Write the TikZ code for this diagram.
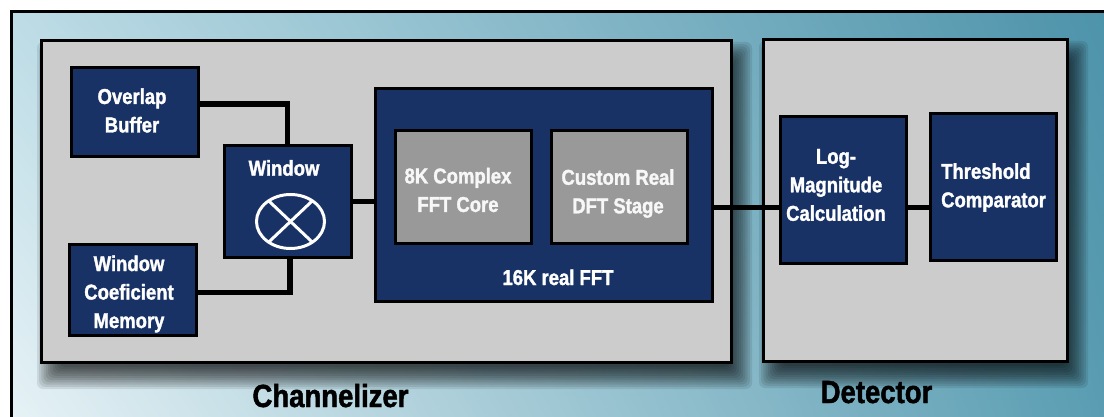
\documentclass[tikz,border=0pt]{standalone}
\usepackage{fontspec}
\setmainfont{Liberation Sans}[FakeStretch=0.86,BoldFeatures={FakeBold=1.5}]
\usetikzlibrary{calc,shadings}
\definecolor{navy}{HTML}{183266}
\definecolor{panel}{HTML}{CCCCCC}
\definecolor{core}{HTML}{999999}
\definecolor{bgUL}{HTML}{BDDCE6}
\definecolor{bgLL}{HTML}{E6F2F6}
\definecolor{bgUR}{HTML}{4D93AA}
\definecolor{bgLR}{HTML}{5A9DB2}
\newcommand{\blurshadow}[4]{%
  \foreach \k in {0,...,10}{%
    \pgfmathsetmacro{\s}{11-2.2*\k}%
    \fill[black,opacity=0.09,rounded corners=6pt]
      ({#1+8-\s},{#2+14-\s}) rectangle ({#3+8+\s},{#4+14+\s});
  }%
}
\tikzset{
  panelbox/.style={draw=black,line width=3pt,fill=panel,inner sep=0pt},
  bluebox/.style={draw=black,line width=3pt,fill=navy,inner sep=0pt},
  graybox/.style={draw=black,line width=3pt,fill=core,inner sep=0pt},
  txt/.style={text=white,font=\fontsize{21.5}{28.5}\selectfont\bfseries,align=center,inner sep=0pt},
  coretxt/.style={txt,text=white!97!black},
  title/.style={text=black,font=\fontsize{32}{36}\selectfont\bfseries,inner sep=0pt,anchor=base},
  wire/.style={draw=black,line width=5.5pt}
}
\begin{document}
\begin{tikzpicture}[x=1pt,y=-1pt]
\useasboundingbox (0,0) rectangle (1104,417);
\fill[white] (0,0) rectangle (1104,417);
\shade[upper left=bgUL,lower left=bgLL,upper right=bgUR,lower right=bgLR] (11.5,11.5) rectangle (1104,417);
\draw[line width=3pt,black] (11.5,417) -- (11.5,11.5) -- (1104,11.5);
% shadows
\blurshadow{40}{39}{733}{364}
\blurshadow{762}{38}{1069}{363}
% panels
\node[panelbox,minimum width=690pt,minimum height=322pt] (chan) at (386.5,201.5) {};
\node[panelbox,minimum width=304pt,minimum height=322pt] (det) at (915.5,200.5) {};
% channelizer blocks
\node[bluebox,minimum width=127pt,minimum height=89pt] (ob) at (135,112) {};
\node[bluebox,minimum width=127pt,minimum height=112pt] (win) at (287.5,201.5) {};
\node[bluebox,minimum width=127pt,minimum height=91pt] (wcm) at (133,290) {};
\node[bluebox,minimum width=337pt,minimum height=213pt] (fft) at (544,195) {};
\node[graybox,minimum width=136pt,minimum height=113pt] (cplx) at (463.5,187) {};
\node[graybox,minimum width=136pt,minimum height=113pt] (dft) at (619.5,187) {};
% detector blocks
\node[bluebox,minimum width=126pt,minimum height=147pt] (log) at (843.5,190) {};
\node[bluebox,minimum width=126pt,minimum height=147pt] (thr) at (993.5,187) {};
% texts
\node[txt] (tob) at (132,110.5) {Overlap\\Buffer};
\node[txt] (twin) at (284,168) {Window};
\node[txt] (twcm) at (129,294) {Window\\Coeficient\\Memory};
\node[coretxt] (tcplx) at (458,190) {8K Complex\\FFT Core};
\node[coretxt] (tdft) at (618,193.5) {Custom Real\\DFT Stage};
\node[txt,anchor=base] (tfft) at (558,285) {16K real FFT};
\node[txt] (tlog) at (836,185) {Log-\\Magnitude\\Calculation};
\node[txt,align=left,anchor=west] (tthr) at (941,187.5) {Threshold\\Comparator};
\node[title] (tchan) at (330.5,407) {Channelizer};
\node[title] (tdet) at (876.5,403) {Detector};
% multiplier symbol
\coordinate (mx) at (290.5,221.5);
\draw[white,line width=3pt] (mx) ellipse [x radius=34pt,y radius=27pt];
\draw[white,line width=3pt] ($(mx)+(130:34pt and 27pt)$) -- ($(mx)+(-50:34pt and 27pt)$);
\draw[white,line width=3pt] ($(mx)+(50:34pt and 27pt)$) -- ($(mx)+(230:34pt and 27pt)$);
% connectors
\coordinate (lvl) at (0,207.5);
\draw[wire] ([yshift=8pt]ob.east) -| (win.north);
\draw[wire] ([yshift=-2.5pt]wcm.east) -| ([xshift=2.5pt]win.south);
\draw[wire] (win.east) -- (win.east -| fft.west);
\draw[wire] (fft.east |- lvl) -- (log.west |- lvl);
\draw[wire] (log.east |- lvl) -- (thr.west |- lvl);
\end{tikzpicture}
\end{document}
